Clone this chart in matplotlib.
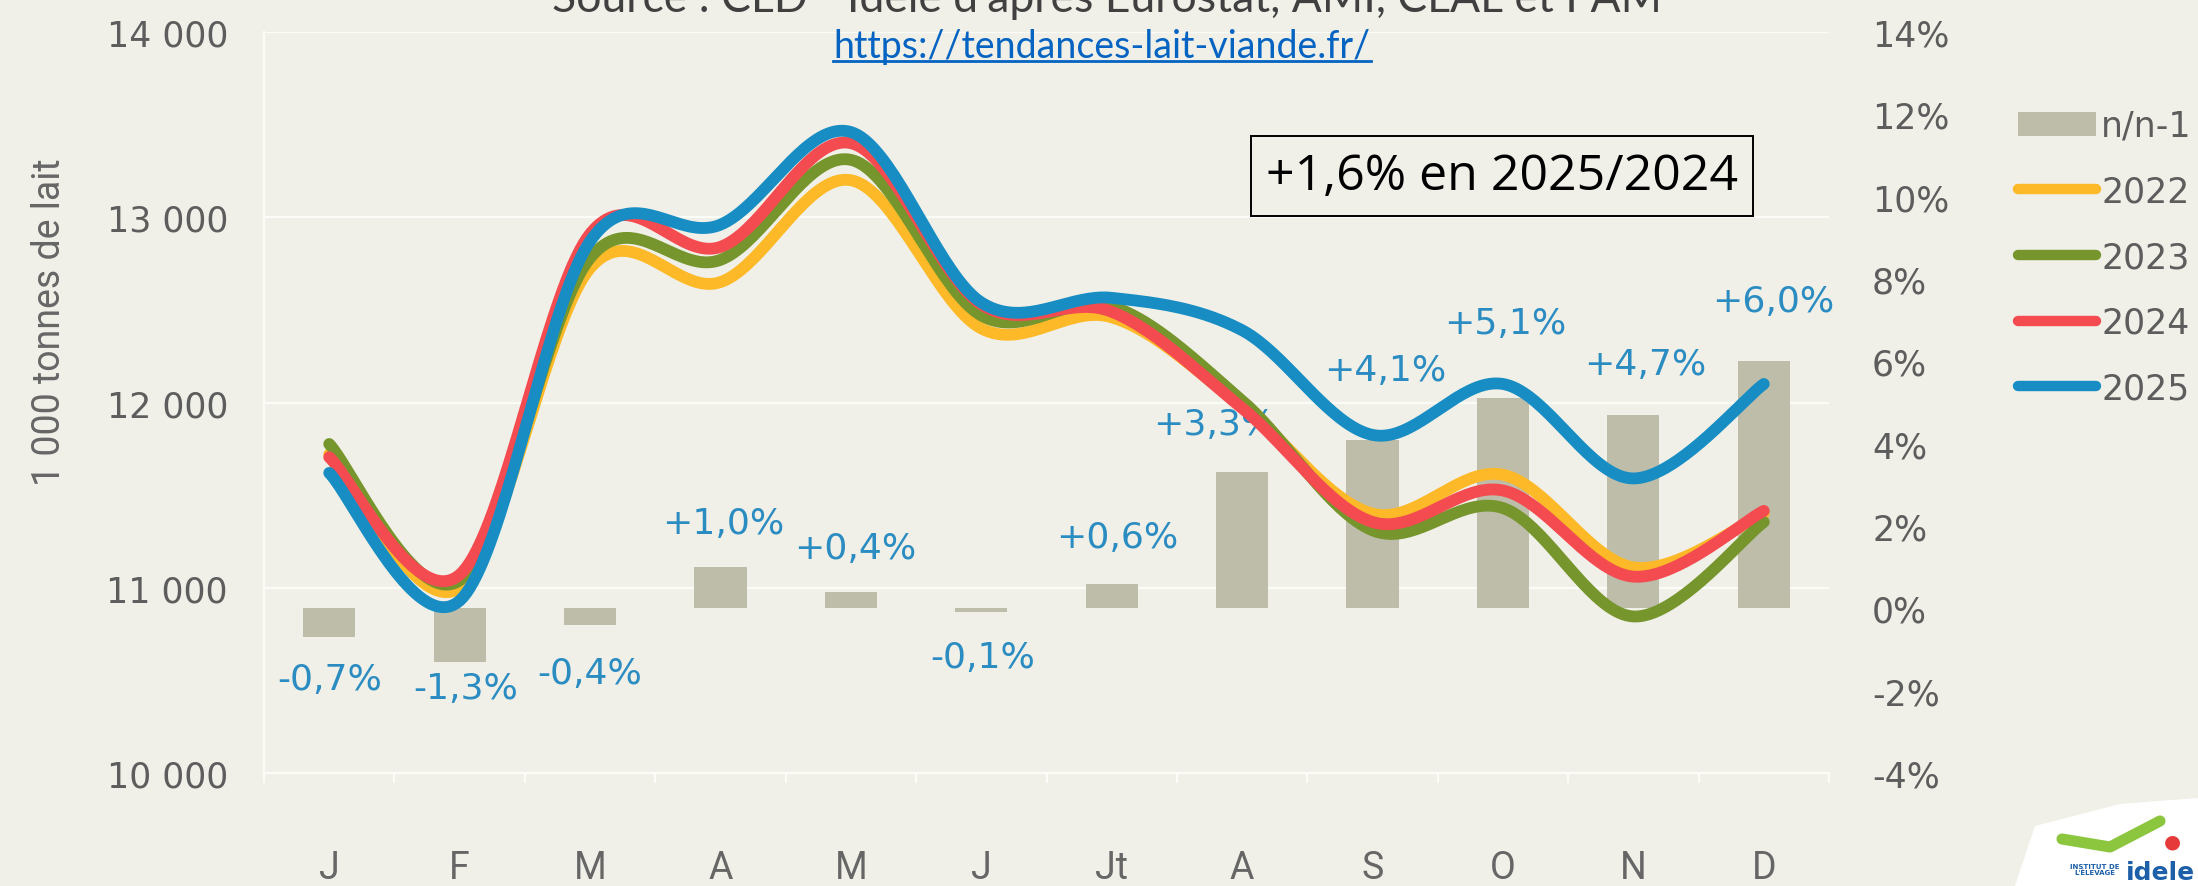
import numpy as np
import matplotlib
matplotlib.use("Agg")
import matplotlib.pyplot as plt
from matplotlib.patches import Patch, Polygon
from matplotlib.lines import Line2D
from matplotlib.ticker import FuncFormatter, FixedLocator
from matplotlib import font_manager

# ---------------- data ----------------
months = ["J", "F", "M", "A", "M", "J", "Jt", "A", "S", "O", "N", "D"]
years = ["2022", "2023", "2024", "2025"]
prod_2022 = [11720, 11000, 12725, 12650, 13200, 12400, 12460, 11980, 11400, 11610, 11110, 11400]
prod_2023 = [11776, 11040, 12780, 12770, 13310, 12470, 12520, 12010, 11310, 11430, 10845, 11355]
prod_2024 = [11705, 11070, 12910, 12840, 13400, 12530, 12490, 11970, 11355, 11525, 11060, 11415]
prod_2025 = [11620, 10930, 12870, 12960, 13460, 12540, 12565, 12390, 11825, 12100, 11590, 12100]
var_pct = [-0.7, -1.3, -0.4, 1.0, 0.4, -0.1, 0.6, 3.3, 4.1, 5.1, 4.7, 6.0]
var_labels = ["-0,7%", "-1,3%", "-0,4%", "+1,0%", "+0,4%", "-0,1%", "+0,6%",
              "+3,3%", "+4,1%", "+5,1%", "+4,7%", "+6,0%"]
left_ticks = [10000, 11000, 12000, 13000, 14000]
right_ticks = [-4, -2, 0, 2, 4, 6, 8, 10, 12, 14]

# label placement (in % units of the right axis) and small x shifts
label_y = [-1.71, -1.93, -1.57, 2.08, 1.47, -1.18, 1.74, 4.47, 5.78, 6.93, 5.93, 7.46]
label_dx = [0.0, 0.05, 0.0, 0.02, 0.03, 0.01, 0.04, -0.21, 0.1, 0.02, 0.09, 0.07]

# ---------------- style ----------------
BG = "#f0f0e8"
GRID = "#fbfbf7"
TICK_COL = "#5d5d5d"
LIGHT_COL = "#666666"
LABEL_BLUE = "#2b8cc2"
BAR_COL = "#bdbdaa"
colors = {"2022": "#fdb927", "2023": "#76952c", "2024": "#f44b50", "2025": "#178dc4"}
series = {"2022": prod_2022, "2023": prod_2023, "2024": prod_2024, "2025": prod_2025}

available = {f.name for f in font_manager.fontManager.ttflist}
NARROW = "Liberation Sans Narrow" if "Liberation Sans Narrow" in available else "Roboto"

plt.rcParams["font.family"] = ["DejaVu Sans"]

fig = plt.figure(figsize=(21.98, 8.87), dpi=100, facecolor=BG)
ax = fig.add_axes([264 / 2198, 1 - 774 / 887, (1829 - 264) / 2198, (774 - 33) / 887])
ax2 = ax.twinx()
ax.set_zorder(2)
ax2.set_zorder(1)
ax.patch.set_visible(False)
ax2.patch.set_visible(False)

x = np.arange(len(months))


def smooth(xs, ys, n=40):
    pts = np.column_stack([xs, ys]).astype(float)
    out = []
    m = len(pts)
    for i in range(m - 1):
        p0 = pts[i - 1] if i > 0 else pts[i]
        p1 = pts[i]
        p2 = pts[i + 1]
        p3 = pts[i + 2] if i + 2 < m else pts[i + 1]
        c1 = p1 + (p2 - p0) / 6.0
        c2 = p2 - (p3 - p1) / 6.0
        t = np.linspace(0, 1, n)[:, None]
        b = ((1 - t) ** 3) * p1 + 3 * ((1 - t) ** 2) * t * c1 + 3 * (1 - t) * t ** 2 * c2 + t ** 3 * p2
        out.append(b if i == 0 else b[1:])
    out = np.vstack(out)
    return out[:, 0], out[:, 1]


# gridlines (behind bars), using the tonnes scale
ax2.hlines(left_ticks, 0, 1, transform=ax.get_yaxis_transform(), colors=GRID, lw=1.6, zorder=0)

# bars on the secondary axis
ax2.bar(x, var_pct, width=0.4, color=BAR_COL, zorder=2)
for i, lab in enumerate(var_labels):
    ax2.text(x[i] + label_dx[i], label_y[i], lab, ha="center", va="center",
             fontsize=26, color=LABEL_BLUE, zorder=3)

# smoothed lines
for yr in years:
    sx, sy = smooth(x, series[yr])
    ax.plot(sx, sy, color=colors[yr], lw=8.5, solid_capstyle="round", zorder=3)

ax.set_xlim(-0.5, len(months) - 0.5)
ax.set_ylim(10000, 14000)
ax2.set_ylim(-4, 14)

ax.yaxis.set_major_locator(FixedLocator(left_ticks))
ax.yaxis.set_major_formatter(FuncFormatter(lambda v, p: f"{int(v):,}".replace(",", " ")))
ax2.yaxis.set_major_locator(FixedLocator(right_ticks))
ax2.yaxis.set_major_formatter(FuncFormatter(lambda v, p: f"{int(v)}%"))

ax.set_xticks(x)
ax.set_xticklabels(months, family=[NARROW, "DejaVu Sans"], fontsize=27, color=LIGHT_COL)
ax.set_xticks(np.arange(-0.5, len(months), 1.0), minor=True)
ax.tick_params(axis="x", which="major", length=0, pad=55)
ax.tick_params(axis="x", which="minor", length=7, color=GRID, width=1.6)
ax.tick_params(axis="y", length=0, pad=26, labelsize=25, labelcolor=TICK_COL)
ax2.tick_params(axis="y", length=0, pad=31, labelsize=25, labelcolor=TICK_COL)

for a in (ax, ax2):
    for s in a.spines.values():
        s.set_visible(False)
ax.spines["left"].set_visible(True)
ax.spines["left"].set_color(GRID)
ax.spines["left"].set_linewidth(1.6)
ax.spines["bottom"].set_visible(True)
ax.spines["bottom"].set_color(GRID)
ax.spines["bottom"].set_linewidth(1.6)

ax.set_ylabel("1 000 tonnes de lait", family=[NARROW, "DejaVu Sans"],
              fontsize=27, color=LIGHT_COL, labelpad=0)
ax.yaxis.set_label_coords(-0.125, 0.61)

# title (cut at the top) and URL
fig.text(1107 / 2198, 1 - 12 / 887, "Source : CLD - Idele d'après Eurostat, AMI, CLAL et FAM",
         ha="center", va="baseline", fontsize=32, family=["Lato", "DejaVu Sans"], color="#404040")
url = fig.text(1102 / 2198, 1 - 47 / 887, "https://tendances-lait-viande.fr/", ha="center", va="center",
               fontsize=27, family=["Lato", "DejaVu Sans"], color="#0563c1")

# boxed annotation
fig.text(1502 / 2198, 1 - 177 / 887, "+1,6% en 2025/2024", ha="center", va="center",
         fontsize=36, family=["Open Sans", "DejaVu Sans"], color="black",
         bbox=dict(boxstyle="square,pad=0.3", facecolor=BG, edgecolor="black", linewidth=1.4))

# legend
handles = [Patch(facecolor=BAR_COL, edgecolor="none")]
handles += [Line2D([0], [0], color=colors[y], lw=7.5, solid_capstyle="round") for y in years]
leg = fig.legend(handles, ["n/n-1"] + years, loc="upper left", bbox_to_anchor=(2018 / 2198, 1 - 110 / 887),
                 frameon=False, fontsize=25, handlelength=2.25, handletextpad=0.15, labelspacing=0.91,
                 borderpad=0, borderaxespad=0)
for t in leg.get_texts():
    t.set_color(TICK_COL)

# logo (approximate)
logo = Polygon([[2015 / 2198, 0], [2035 / 2198, 60 / 887], [2120 / 2198, 82 / 887],
                [2198 / 2198, 88 / 887], [2198 / 2198, 0]], closed=True, transform=fig.transFigure,
               facecolor="white", edgecolor="none")
fig.patches.append(logo)
fig.lines.append(Line2D([2062 / 2198, 2110 / 2198, 2160 / 2198], [1 - 840 / 887, 1 - 848 / 887, 1 - 822 / 887],
                        transform=fig.transFigure, color="#8cc63f", lw=8, solid_capstyle="round"))
fig.text(2160 / 2198, 1 - 880 / 887, "idele", ha="center", va="baseline", fontsize=18,
         fontweight="bold", color="#1d5fa8")
fig.text(2095 / 2198, 1 - 870 / 887, "INSTITUT DE\nL'ÉLEVAGE", ha="center", va="center", fontsize=5,
         fontweight="bold", color="#1d5fa8", linespacing=1.0)
fig.text(2172 / 2198, 1 - 842 / 887, "●", ha="center", va="center", fontsize=14, color="#e63a3a")

# underline the URL
fig.canvas.draw()
bb = url.get_window_extent(renderer=fig.canvas.get_renderer())
W, H = fig.bbox.width, fig.bbox.height
uy = (bb.y0 + 3) / H
fig.lines.append(Line2D([bb.x0 / W, bb.x1 / W], [uy, uy], transform=fig.transFigure, color="#0563c1", lw=2))

fig.savefig("out.png", dpi=100, facecolor=BG)
